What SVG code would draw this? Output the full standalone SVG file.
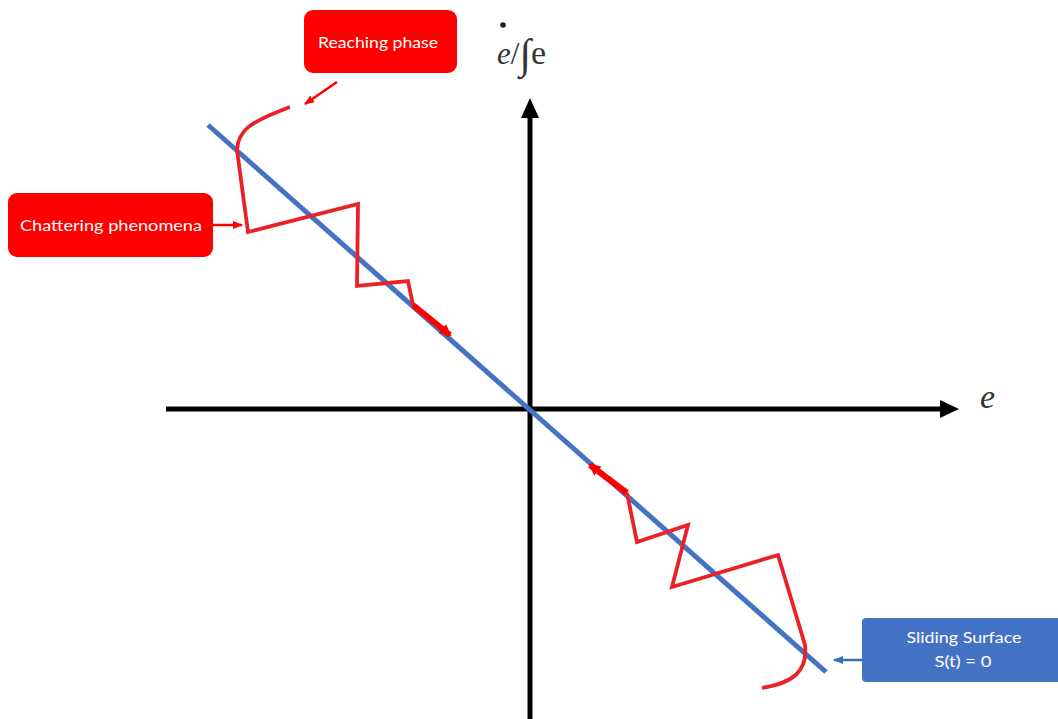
<svg xmlns="http://www.w3.org/2000/svg" width="1058" height="719" viewBox="0 0 1058 719">
<style>
.ax{stroke:#000;stroke-width:5;fill:none}
.rd{stroke:#ea2228;stroke-width:3.8;fill:none;stroke-linejoin:miter}
.th{stroke:#ff0000;stroke-width:6;fill:none}
.bl{stroke:#4472c4;stroke-width:5;fill:none}
.bt{font-family:Lato,"Liberation Sans",sans-serif;font-size:15px;fill:#fff;text-anchor:middle}
.mt{font-family:"Liberation Serif",serif;fill:#333}
</style>
<defs>
<marker id="ra" markerWidth="14" markerHeight="12" refX="10" refY="6" orient="auto" markerUnits="userSpaceOnUse"><path d="M0,0 L12,6 L0,12z" fill="#ff0000"/></marker>
<marker id="rs" markerWidth="10" markerHeight="10" refX="9" refY="5" orient="auto" markerUnits="userSpaceOnUse"><path d="M0,1 L10,5 L0,9z" fill="#ff0000"/></marker>
<marker id="ba" markerWidth="10" markerHeight="10" refX="9" refY="5" orient="auto" markerUnits="userSpaceOnUse"><path d="M0,1 L10,5 L0,9z" fill="#2e75b6"/></marker>
</defs>
<g id="axes">
<line class="ax" x1="166" y1="409" x2="944" y2="409"/>
<path d="M940,400 L959,409 L940,418z" fill="#000"/>
<line class="ax" x1="530" y1="719" x2="530" y2="114"/>
<path d="M521,118 L530,98 L539,118z" fill="#000"/>
<text class="mt" x="980" y="408" font-size="34" font-style="italic">e</text>
<text class="mt" x="497" y="64" font-size="31"><tspan font-style="italic">e</tspan>/<tspan font-size="42" dy="4">∫</tspan><tspan dy="-4" font-size="34">e</tspan></text>
<circle cx="503" cy="25" r="2.8" fill="#222"/>
</g>
<g id="sliding-line">
<line class="bl" x1="208" y1="125" x2="826" y2="672"/>
</g>
<g id="connectors">
<path class="rd" d="M290,107 C250,122 238,130 237,150 L248,232 L358,204 L357,286 L408,281 L413,305"/>
<path class="th" d="M413,305 L450,335" marker-end="url(#ra)"/>
<path class="th" d="M627,493 L590,465" marker-end="url(#ra)"/>
<path class="rd" d="M627,493 L637,542 L688,525 L672,587 L778,555 L805,645 C808,672 792,683 762,688"/>
<line x1="337" y1="82" x2="305" y2="104" stroke="#ff0000" stroke-width="2.5" marker-end="url(#rs)"/>
<line x1="213" y1="225" x2="242" y2="225" stroke="#ff0000" stroke-width="2.5" marker-end="url(#rs)"/>
<line x1="862" y1="660" x2="834" y2="660" stroke="#2e75b6" stroke-width="2.5" marker-end="url(#ba)"/>
</g>
<g id="reaching-phase">
<rect x="304" y="10" width="153" height="63" rx="9" fill="#ff0000"/>
<text class="bt" x="378" y="48" textLength="120" lengthAdjust="spacingAndGlyphs">Reaching phase</text>
</g>
<g id="chattering">
<rect x="8" y="193" width="205" height="64" rx="9" fill="#ff0000"/>
<text class="bt" x="111" y="231" textLength="182" lengthAdjust="spacingAndGlyphs">Chattering phenomena</text>
</g>
<g id="sliding-surface">
<rect x="862" y="618" width="205" height="64" rx="4" fill="#4472c4"/>
<text class="bt" x="964" y="643" textLength="115" lengthAdjust="spacingAndGlyphs">Sliding Surface</text>
<text class="bt" x="963" y="667" textLength="57" lengthAdjust="spacingAndGlyphs">S(t) = 0</text>
</g>
</svg>
